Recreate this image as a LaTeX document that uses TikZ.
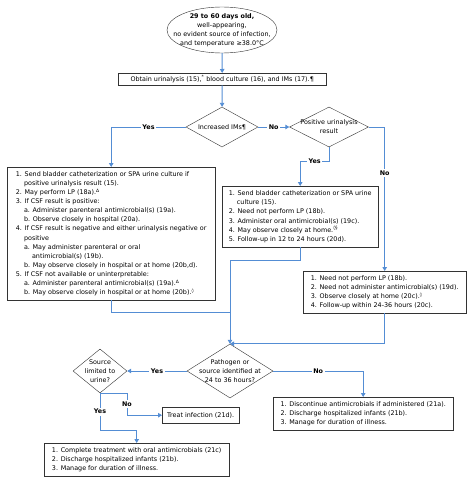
\documentclass[tikz,border=0pt]{standalone}
\usepackage{fontspec}
\setmainfont{DejaVu Sans}
\usetikzlibrary{arrows.meta, positioning, calc, shapes.geometric, shadows}
\definecolor{flowblue}{RGB}{84,141,212}
\newcommand{\indA}{\hphantom{1.~}}
\newcommand{\indB}{\hphantom{a.~}}

\begin{document}
\begin{tikzpicture}[
    x=1pt, y=1pt,
    txt/.style={font=\fontsize{6.4}{9.1}\selectfont},
    box/.style={txt, draw=black!80, fill=white, align=left, inner sep=0pt, anchor=north west,
                drop shadow={shadow xshift=0.8pt, shadow yshift=-0.8pt, fill=black!60}},
    dia/.style={draw=black!80, fill=white, diamond, inner sep=0pt},
    lbl/.style={font=\fontsize{6.4}{7}\selectfont\bfseries, fill=white, inner sep=1.5pt},
    arr/.style={draw=flowblue, line width=0.9pt, -{Triangle[length=4pt, width=4.5pt]}},
    ln/.style={draw=flowblue, line width=0.9pt}
]
\useasboundingbox (0,0) rectangle (474,-484);

% top of the chart
\node[ellipse, draw=black!80, fill=white, minimum width=110pt, minimum height=46pt,
      label={[txt, align=center]center:{\textbf{29 to 60 days old,}\\well-appearing,\\no evident source of infection,\\and temperature ≥38.0°C}}]
      (start) at (222,-30) {};
\node[box, minimum width=208pt, minimum height=12pt] (urin) at (118,-73)
    {Obtain urinalysis (15),\textsuperscript{*} blood culture (16), and IMs (17).¶};
\node[dia, minimum width=72pt, minimum height=40pt,
      label={[txt]center:Increased IMs¶}] (imsq) at (222,-127) {};
\node[dia, minimum width=79pt, minimum height=40pt,
      label={[txt, align=center]center:{Positive urinalysis\\result}}] (uaq) at (329,-127) {};

% middle boxes
\node[box, minimum width=208pt, minimum height=133pt] (csfbox) at (7,-167)
    {1. Send bladder catheterization or SPA urine culture if\\
     \indA positive urinalysis result (15).\\
     2. May perform LP (18a).\textsuperscript{Δ}\\
     3. If CSF result is positive:\\
     \indA a. Administer parenteral antimicrobial(s) (19a).\\
     \indA b. Observe closely in hospital (20a).\\
     4. If CSF result is negative and either urinalysis negative or\\
     \indA positive\\
     \indA a. May administer parenteral or oral\\
     \indA\indB antimicrobial(s) (19b).\\
     \indA b. May observe closely in hospital or at home (20b,d).\\
     5. If CSF not available or uninterpretable:\\
     \indA a. Administer parenteral antimicrobial(s) (19a).\textsuperscript{Δ}\\
     \indA b. May observe closely in hospital or at home (20b).\textsuperscript{◊}};
\node[box, minimum width=156pt, minimum height=61pt] (uapos) at (222,-186)
    {1. Send bladder catheterization or SPA urine\\
     \indA culture (15).\\
     2. Need not perform LP (18b).\\
     3. Administer oral antimicrobial(s) (19c).\\
     4. May observe closely at home.\textsuperscript{◊§}\\
     5. Follow-up in 12 to 24 hours (20d).};
\node[box, minimum width=163pt, minimum height=42pt] (uaneg) at (303,-271)
    {1. Need not perform LP (18b).\\
     2. Need not administer antimicrobial(s) (19d).\\
     3. Observe closely at home (20c).\textsuperscript{◊}\\
     4. Follow-up within 24-36 hours (20c).};

% bottom part
\node[dia, minimum width=86pt, minimum height=54pt,
      label={[txt, align=center]center:{Pathogen or\\source identified at\\24 to 36 hours?}}] (pathq) at (230,-371) {};
\node[dia, minimum width=54pt, minimum height=44pt,
      label={[txt, align=center]center:{Source\\limited to\\urine?}}] (urineq) at (100,-371) {};
\node[box, minimum width=77pt, minimum height=16pt] (treat) at (162,-407) {Treat infection (21d).};
\node[box, minimum width=185pt, minimum height=33pt] (compl) at (44,-443)
    {1. Complete treatment with oral antimicrobials (21c)\\
     2. Discharge hospitalized infants (21b).\\
     3. Manage for duration of illness.};
\node[box, minimum width=180pt, minimum height=33pt] (stop) at (273,-397)
    {1. Discontinue antimicrobials if administered (21a).\\
     2. Discharge hospitalized infants (21b).\\
     3. Manage for duration of illness.};

\coordinate (merge) at (230,-260);
\coordinate (csfout) at (230,-312);

\draw[arr] (start) -- (urin);
\draw[arr] (urin) -- (imsq);
\draw[arr] (imsq.west) -| node[lbl, pos=0.25]{Yes} (csfbox.north);
\draw[arr] (imsq.east) -- node[lbl]{No} (uaq.west);
\draw[arr] (uaq.east) -| node[lbl, pos=0.66]{No} (uaneg.north);
\draw[arr] (uaq.south) -- ++(0,-14) -| node[lbl, pos=0.25]{Yes} (uapos.north);
\draw[arr] (uapos.south) |- (merge) -- (pathq.north);
\draw[ln] (csfbox.south) |- (csfout);
\draw[arr] (uaneg.south) |- (pathq.north);
\draw[arr] (pathq.west) -- node[lbl]{Yes} (urineq.east);
\draw[arr] (pathq.east) -| node[lbl, pos=0.25]{No} (stop.north);
\draw[arr] (urineq.south) -- node[lbl]{Yes} ++(0,-37) -| (compl.north);
\draw[arr] (urineq.south) -- ++(27,0) |- node[lbl, pos=0.25]{No} (treat.west);
\end{tikzpicture}
\end{document}
